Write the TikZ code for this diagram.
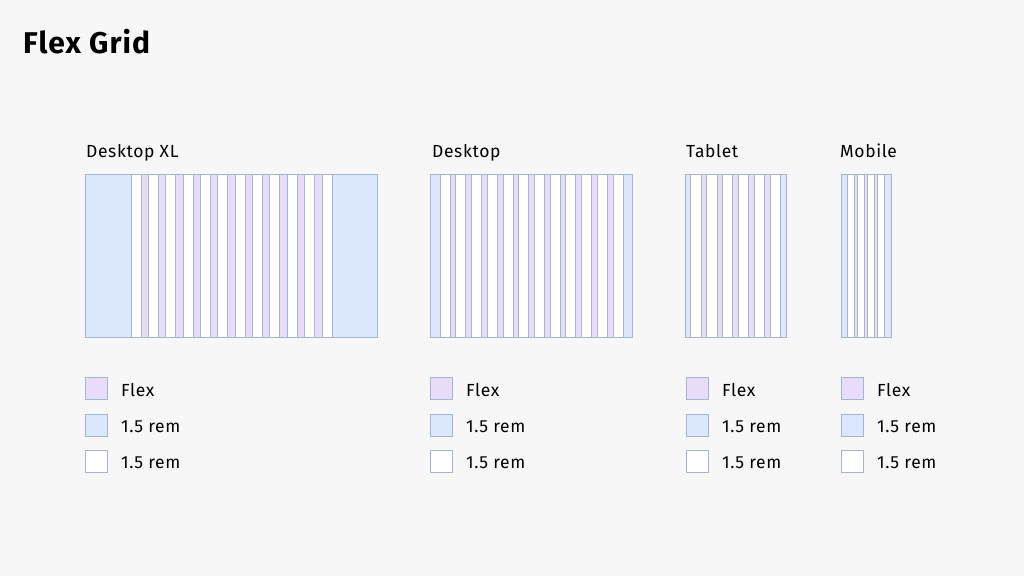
\documentclass[tikz,border=0pt]{standalone}
\usepackage{fontspec}
\setmainfont{Fira Sans}[LetterSpace=3.5]
\definecolor{bg}{HTML}{F7F7F7}
\definecolor{blu}{HTML}{DBE7FC}
\definecolor{pur}{HTML}{E8DCFB}
\definecolor{edge}{HTML}{A3B5CF}
\tikzset{
  col/.style={draw=edge, line width=0.8pt},
  mar/.style={col, fill=blu},
  flexcol/.style={col, fill=pur},
  gut/.style={col, fill=white},
  lbl/.style={anchor=base west, inner sep=0pt, font=\fontsize{17.5}{20}\selectfont},
  keybox/.style={draw=edge, line width=0.8pt, minimum size=22pt, inner sep=0pt, anchor=north west},
}
% #1 x0, #2 left margin, #3 number of flex columns, #4 gutter, #5 flex width, #6 right x
\newcommand\flexgrid[6]{%
  \draw[mar] (#1,174) rectangle (#1+#2,337);
  \foreach \i in {1,...,#3}{
    \pgfmathsetmacro\gx{#1+#2+(\i-1)*(#4+#5)}
    \draw[gut] (\gx,174) rectangle (\gx+#4,337);
    \draw[flexcol] (\gx+#4,174) rectangle (\gx+#4+#5,337);
  }
  \pgfmathsetmacro\gx{#1+#2+#3*(#4+#5)}
  \draw[gut] (\gx,174) rectangle (\gx+#4,337);
  \draw[mar] (\gx+#4,174) rectangle (#6,337);
}
\begin{document}
\begin{tikzpicture}[x=1pt,y=-1pt]
\fill[bg] (0,0) rectangle (1024,576);
\useasboundingbox (0,0) rectangle (1024,576);

\node[anchor=base west, inner sep=0pt, font=\fontsize{30}{34}\selectfont\bfseries] (title) at (23,53) {Flex Grid};

\node[lbl] (lxl) at (86,157) {Desktop XL};
\node[lbl] (ldt) at (432,157) {Desktop};
\node[lbl] (ltb) at (686,157) {Tablet};
\node[lbl] (lmb) at (840,157) {Mobile};

\flexgrid{85}{46}{11}{10}{7.36}{377}
\flexgrid{430}{10}{11}{10}{5.73}{632}
\flexgrid{685}{5.5}{5}{10.5}{5.4}{786}
\flexgrid{841}{6.5}{3}{7}{3}{891}

\foreach \x/\n in {85/a,430/b,686/c,841/d}{
  \node[keybox, fill=pur] (k1\n) at (\x,377) {};
  \node[keybox, fill=blu] (k2\n) at (\x,413.5) {};
  \node[keybox, fill=white] (k3\n) at (\x,450) {};
  \node[lbl] (t1\n) at (\x+36,396) {Flex};
  \node[lbl] (t2\n) at (\x+36,432) {1.5 rem};
  \node[lbl] (t3\n) at (\x+36,468) {1.5 rem};
}
\end{tikzpicture}
\end{document}
